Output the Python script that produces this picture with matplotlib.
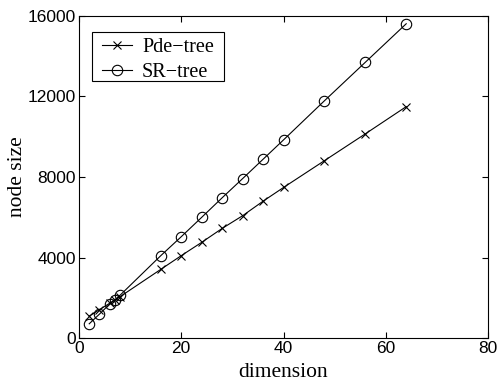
import numpy as np
import matplotlib
matplotlib.use("Agg")
import matplotlib.pyplot as plt
from matplotlib.patches import Rectangle

# ==========================================================
# DATA
# ==========================================================
dims = [2, 4, 6, 7, 8, 16, 20, 24, 28, 32, 36, 40, 48, 56, 64]
pde_tree = [1100, 1420, 1740, 1900, 2060, 3420, 4100, 4760, 5450, 6080,
            6800, 7480, 8810, 10140, 11490]
sr_tree = [720, 1200, 1700, 1900, 2130, 4100, 5040, 6000, 6970, 7920,
           8880, 9840, 11780, 13690, 15600]

x_ticks = [0, 20, 40, 60, 80]
y_ticks = [0, 4000, 8000, 12000, 16000]

# ==========================================================
# PLOT
# ==========================================================
fig = plt.figure(figsize=(4.99, 3.81), dpi=100)
ax = fig.add_axes([0.1583, 0.112, 0.8197, 0.8468])

ax.plot(dims, pde_tree, "-", color="black", lw=0.8, marker="x",
        markersize=6, markeredgewidth=0.8, label="Pde\u2212tree")
ax.plot(dims, sr_tree, "-", color="black", lw=0.8, marker="o",
        markersize=7.5, markerfacecolor="none", markeredgewidth=0.8,
        label="SR\u2212tree")

ax.set_xlim(0, 80)
ax.set_ylim(0, 16000)
ax.set_xticks(x_ticks)
ax.set_yticks(y_ticks)

tick_font = {"family": "Liberation Sans", "size": 12.5}
ax.set_xticklabels([str(t) for t in x_ticks], fontdict=tick_font)
ax.set_yticklabels([str(t) for t in y_ticks], fontdict=tick_font)
ax.tick_params(direction="in", length=4, width=0.8, top=True, right=True, pad=2)
for s in ax.spines.values():
    s.set_linewidth(0.8)

ax.set_xlabel("dimension", family="Liberation Serif", fontsize=15.5, labelpad=5)
ax.set_ylabel("node size", family="Liberation Serif", fontsize=15.5, labelpad=0.5)

# legend without its own frame, box drawn separately (matlab-like padding)
leg = ax.legend(loc="upper left", bbox_to_anchor=(0.031, 0.9616),
                borderaxespad=0, prop={"family": "Liberation Serif", "size": 14.5},
                handlelength=1.5, handletextpad=0.5, labelspacing=0.26,
                borderpad=0.5, frameon=False)
ax.add_patch(Rectangle((0.031, 0.7985), 0.3243, 0.15, transform=ax.transAxes,
                       facecolor="white", edgecolor="black", lw=0.8, zorder=4))
leg.set_zorder(5)

plt.savefig("out.png", dpi=100)
